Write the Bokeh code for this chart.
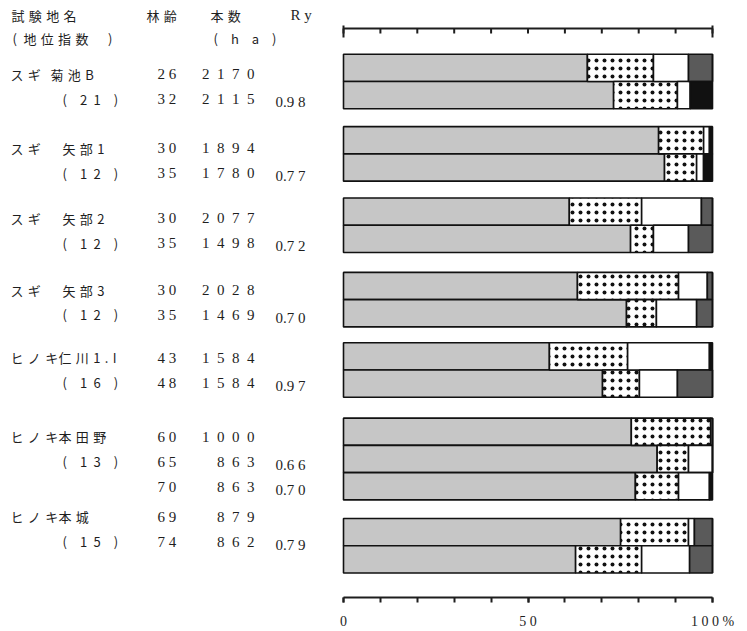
from bokeh.plotting import figure
from bokeh.models import Range1d, LinearAxis, FixedTicker, ColumnDataSource
from bokeh.core.properties import value
from bokeh.embed import file_html
from bokeh.resources import INLINE

# ---------------- data ----------------
species = ["スギ", "スギ", "スギ", "スギ", "ヒノキ", "ヒノキ", "ヒノキ"]
sites = ["菊池B", "矢部1", "矢部2", "矢部3", "仁川1.I", "本田野", "本城"]
site_index = [21, 12, 12, 12, 16, 13, 15]
ages = [[26, 32], [30, 35], [30, 35], [30, 35], [43, 48], [60, 65, 70], [69, 74]]
counts = [[2170, 2115], [1894, 1780], [2077, 1498], [2028, 1469], [1584, 1584],
          [1000, 863, 863], [879, 862]]
ry = [[None, 0.98], [None, 0.77], [None, 0.72], [None, 0.70], [None, 0.97],
      [None, 0.66, 0.70], [None, 0.79]]

# stacked shares (%) per bar: gray / dotted / white / dark gray / black
seg_gray = [[66.1, 73.2], [85.4, 87.0], [61.2, 77.8], [63.4, 76.7], [55.8, 70.2],
            [78.0, 85.0, 79.1], [75.1, 62.9]]
seg_dot = [[17.9, 17.3], [12.2, 8.7], [19.6, 6.2], [27.4, 8.1], [21.2, 10.0],
           [21.5, 8.5, 11.7], [18.4, 17.9]]
seg_white = [[9.5, 3.5], [1.6, 1.9], [16.2, 9.5], [7.8, 10.9], [22.2, 10.3],
             [0.5, 6.5, 8.4], [1.6, 13.0]]
seg_dark = [[6.5, 0.0], [0.0, 0.0], [3.0, 6.5], [1.4, 4.3], [0.0, 9.5],
            [0.0, 0.0, 0.0], [4.9, 6.2]]
seg_black = [[0.0, 6.0], [0.8, 2.4], [0.0, 0.0], [0.0, 0.0], [0.8, 0.0],
             [0.0, 0.0, 0.8], [0.0, 0.0]]

scale_ticks = [0, 10, 20, 30, 40, 50, 60, 70, 80, 90, 100]
axis_ticks = [0, 50, 100]
axis_labels = {0: "0", 50: "5 0", 100: "1 0 0 %"}

# ---------------- layout ----------------
W, H = 747, 631
X0, PXU = 343.0, 3.69          # page x of 0 %, pixels per %
def fx(px):
    return (px - X0) / PXU

SP = "\u2004"                  # letter spacing for the kanji / kana texts
EN, EM = "\u2002", "\u2003"
def spaced(s):
    return SP.join(s)

bar_top = [67.5, 140.0, 211.5, 286.0, 356.5, 432.0, 532.5]
bar_pitch = 27.3
text_top = [74, 148, 218, 290, 358, 437, 517]
text_pitch = 25
site_x = [50, 62, 62, 62, 58, 58, 58]
AXIS_TOP_Y, AXIS_BOT_Y = 28, 598

JP = value("Noto Sans CJK JP")
SER = value("Liberation Serif")
INK = "#1e1e1e"

p = figure(width=W, height=H, output_backend="svg", toolbar_location=None,
           x_range=Range1d(fx(0), fx(W)), y_range=Range1d(AXIS_BOT_Y, 0),
           x_axis_type=None, y_axis_type=None,
           min_border_left=0, min_border_right=0, min_border_top=0,
           min_border_bottom=H - AXIS_BOT_Y)
p.outline_line_color = None
p.grid.visible = False
p.background_fill_color = "white"
p.border_fill_color = "white"

# top scale (drawn inside the frame, above the bars)
p.segment(x0=[scale_ticks[0]], x1=[scale_ticks[-1]], y0=[AXIS_TOP_Y], y1=[AXIS_TOP_Y],
          line_color=INK, line_width=2)
p.segment(x0=scale_ticks, x1=scale_ticks, y0=[AXIS_TOP_Y] * len(scale_ticks),
          y1=[AXIS_TOP_Y + 5] * len(scale_ticks), line_color=INK, line_width=2)
p.segment(x0=[scale_ticks[0], scale_ticks[-1]], x1=[scale_ticks[0], scale_ticks[-1]],
          y0=[AXIS_TOP_Y - 3] * 2, y1=[AXIS_TOP_Y + 9] * 2, line_color=INK, line_width=2)

# bars
ys, cols = [], {k: [] for k in ["gray", "dot", "white", "dark", "black"]}
for g in range(len(seg_gray)):
    for i in range(len(seg_gray[g])):
        ys.append(bar_top[g] + i * bar_pitch)
        cols["gray"].append(seg_gray[g][i])
        cols["dot"].append(seg_dot[g][i])
        cols["white"].append(seg_white[g][i])
        cols["dark"].append(seg_dark[g][i])
        cols["black"].append(seg_black[g][i])
src = ColumnDataSource(dict(y=ys, **cols))
stackers = ["gray", "dot", "white", "dark", "black"]
p.hbar_stack(stackers, y="y", height=bar_pitch, source=src,
             fill_color=["#c6c6c6", "white", "white", "#5a5a5a", "#111111"],
             line_color="#111111", line_width=1.6,
             hatch_pattern=[" ", "dot", " ", " ", " "],
             hatch_color="#111111", hatch_scale=8, hatch_weight=1.1)

# text table
def text(xs, ys, txt, font, size, align="left"):
    s = ColumnDataSource(dict(x=[fx(v) for v in xs], y=ys, t=txt))
    p.text(x="x", y="y", text="t", source=s, text_font=font, text_font_size=size,
           text_color=INK, text_baseline="middle", text_align=align)

# headers
text([11, 146, 210], [15, 15, 15], [spaced("試験地名"), spaced("林齢"), spaced("本数")], JP, "13px")
text([12], [38], ["(" + EN + spaced("地位指数") + EM + EN + ")"], JP, "13px")
text([213], [38], ["(" + EM + "h" + EM + "a" + EM + ")"], JP, "13px")
text([290], [15], ["R y"], SER, "15px")

sp_x, sp_y, sp_t = [], [], []
si_x, si_y, si_t = [], [], []
ag_x, ag_y, ag_t = [], [], []
ct_x, ct_y, ct_t = [], [], []
ry_x, ry_y, ry_t = [], [], []
for g in range(len(species)):
    y0 = text_top[g]
    sp_x.append(10); sp_y.append(y0); sp_t.append(spaced(species[g]))
    sp_x.append(site_x[g]); sp_y.append(y0); sp_t.append(spaced(sites[g]))
    d = str(site_index[g])
    si_x.append(62); si_y.append(y0 + text_pitch)
    si_t.append("(" + EM + d[0] + EN + d[1] + EM + ")")
    for i in range(len(ages[g])):
        y = y0 + i * text_pitch
        ag_x.append(157); ag_y.append(y); ag_t.append(" ".join(str(ages[g][i])))
        ct_x.append(254); ct_y.append(y); ct_t.append(EN.join(str(counts[g][i])))
        if ry[g][i] is not None:
            s = f"{ry[g][i]:.2f}"
            ry_x.append(275); ry_y.append(y + 3); ry_t.append(s[:-1] + " " + s[-1])

text(sp_x, sp_y, sp_t, JP, "13px")
text(si_x, si_y, si_t, JP, "13px")
text(ag_x, ag_y, ag_t, SER, "15px")
text(ct_x, ct_y, ct_t, SER, "15px", align="right")
text(ry_x, ry_y, ry_t, SER, "15px")

# bottom axis
bot = LinearAxis(ticker=FixedTicker(ticks=axis_ticks, minor_ticks=scale_ticks),
                 bounds=(0, 100))
bot.major_label_overrides = axis_labels
bot.major_tick_in = 0
bot.major_tick_out = 5
bot.minor_tick_in = 0
bot.minor_tick_out = 5
bot.axis_line_width = 2
bot.major_tick_line_width = 2
bot.minor_tick_line_width = 2
bot.axis_line_color = INK
bot.major_tick_line_color = INK
bot.minor_tick_line_color = INK
bot.major_label_text_font = "Liberation Serif"
bot.major_label_text_font_size = "14px"
bot.major_label_text_color = INK
bot.major_label_standoff = 11
p.add_layout(bot, "below")

open("out.html", "w").write(file_html(p, INLINE))
